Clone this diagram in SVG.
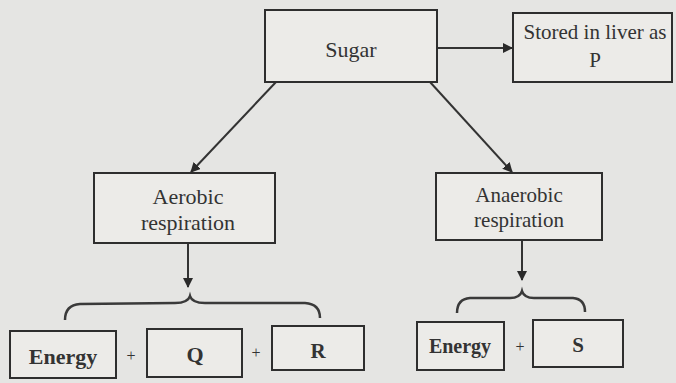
<svg xmlns="http://www.w3.org/2000/svg" width="676" height="383" viewBox="0 0 676 383">
<defs>
<style>
.box{fill:#ecebe8;stroke:#2e2e2e;stroke-width:2}
.t{font-family:"Liberation Serif","Times New Roman",serif;fill:#333;text-anchor:middle}
.c{fill:none;stroke:#333;stroke-width:2}
.b{fill:none;stroke:#3a3a3a;stroke-width:2.5}
</style>
<marker id="ah2" viewBox="0 0 10 10" refX="9" refY="5" markerWidth="10" markerHeight="10" orient="auto" markerUnits="userSpaceOnUse">
<path d="M0,0 L10,5 L0,10 z" fill="#2a2a2a"/>
</marker>
</defs>
<rect width="676" height="383" fill="#e5e5e3"/>
<g id="connectors">
<line class="c" x1="437" y1="48" x2="512" y2="48" marker-end="url(#ah2)"/>
<line class="c" x1="276" y1="82" x2="191" y2="172" marker-end="url(#ah2)"/>
<line class="c" x1="430" y1="82" x2="512" y2="172" marker-end="url(#ah2)"/>
<line class="c" x1="188" y1="243" x2="188" y2="287" stroke-width="1.5" marker-end="url(#ah2)"/>
<line class="c" x1="522" y1="240" x2="522" y2="280" stroke-width="1.5" marker-end="url(#ah2)"/>
<path class="b" d="M65,320 Q65,305 80,304 L175,303 Q188,303 190,296 Q192,303 205,303 L305,303 Q320,304 320,318"/>
<path class="b" d="M457,313 Q457,299 470,298 L510,298 Q520,298 522,291 Q524,298 534,298 L573,298 Q585,299 585,312"/>
</g>
<g id="sugar"><rect class="box" x="265" y="10" width="172" height="72"/><text class="t" x="351" y="57" font-size="22">Sugar</text></g>
<g id="stored"><rect class="box" x="513" y="13" width="159" height="69"/><text class="t" x="595" y="39" font-size="21">Stored in liver as</text><text class="t" x="595" y="67" font-size="21">P</text></g>
<g id="aerobic"><rect class="box" x="94" y="173" width="181" height="70"/><text class="t" x="188" y="204" font-size="22">Aerobic</text><text class="t" x="188" y="230" font-size="22">respiration</text></g>
<g id="anaerobic"><rect class="box" x="436" y="173" width="166" height="67"/><text class="t" x="519" y="202" font-size="21">Anaerobic</text><text class="t" x="519" y="227" font-size="21">respiration</text></g>
<g id="energy1"><rect class="box" x="10" y="331" width="106" height="47"/><text class="t" x="63" y="364" font-size="22" font-weight="bold">Energy</text></g>
<text class="t" x="131" y="361" font-size="16">+</text>
<g id="q"><rect class="box" x="147" y="329" width="95" height="48"/><text class="t" x="195" y="362" font-size="22" font-weight="bold">Q</text></g>
<text class="t" x="256" y="358" font-size="16">+</text>
<g id="r"><rect class="box" x="272" y="326" width="92" height="44"/><text class="t" x="318" y="358" font-size="21" font-weight="bold">R</text></g>
<g id="energy2"><rect class="box" x="417" y="322" width="87" height="48"/><text class="t" x="460" y="353" font-size="20" font-weight="bold">Energy</text></g>
<text class="t" x="520" y="352" font-size="16">+</text>
<g id="s"><rect class="box" x="533" y="320" width="90" height="47"/><text class="t" x="578" y="352" font-size="21" font-weight="bold">S</text></g>
</svg>
